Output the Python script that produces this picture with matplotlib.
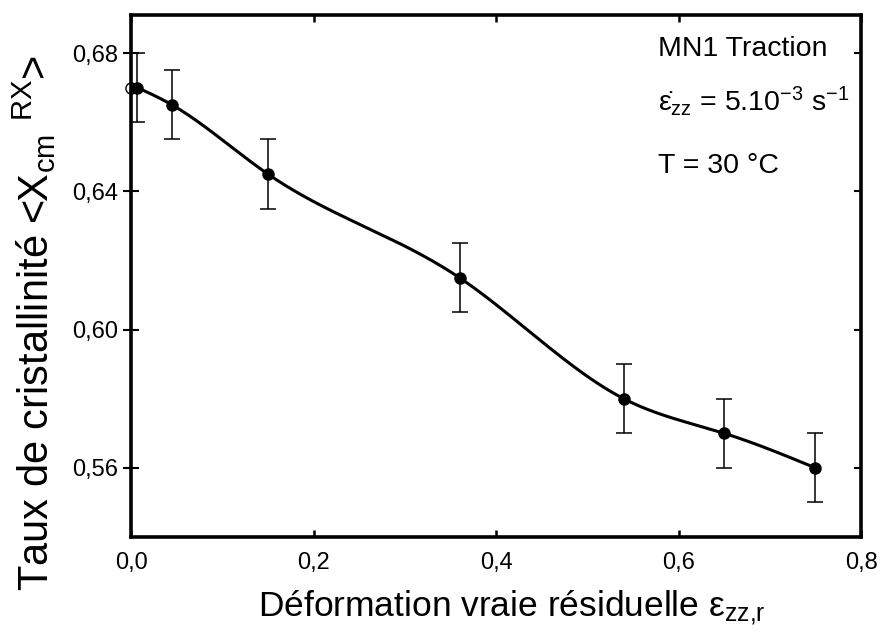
import numpy as np
import matplotlib.pyplot as plt

plt.rcParams['font.family'] = ['Liberation Sans', 'DejaVu Sans']
plt.rcParams['mathtext.fontset'] = 'custom'
plt.rcParams['mathtext.rm'] = 'Liberation Sans'
plt.rcParams['mathtext.it'] = 'Liberation Sans:italic'
plt.rcParams['mathtext.bf'] = 'Liberation Sans:bold'

# data
deformation = [0.007, 0.045, 0.15, 0.36, 0.54, 0.65, 0.75]
cristallinite = [0.670, 0.665, 0.645, 0.615, 0.580, 0.570, 0.560]
erreur = [0.010, 0.010, 0.010, 0.010, 0.010, 0.010, 0.010]
# open point at zero strain
x_ref = [0.0]
y_ref = [0.670]


def natural_spline(x, y, n=400):
    # natural cubic spline, just for drawing the smooth line through the points
    x = np.asarray(x, float)
    y = np.asarray(y, float)
    k = len(x)
    h = np.diff(x)
    A = np.zeros((k, k))
    r = np.zeros(k)
    A[0, 0] = A[-1, -1] = 1
    for i in range(1, k - 1):
        A[i, i - 1] = h[i - 1]
        A[i, i] = 2 * (h[i - 1] + h[i])
        A[i, i + 1] = h[i]
        r[i] = 3 * ((y[i + 1] - y[i]) / h[i] - (y[i] - y[i - 1]) / h[i - 1])
    c = np.linalg.solve(A, r)
    b = (y[1:] - y[:-1]) / h - h * (2 * c[:-1] + c[1:]) / 3
    d = (c[1:] - c[:-1]) / (3 * h)
    xs = np.linspace(x[0], x[-1], n)
    idx = np.clip(np.searchsorted(x, xs) - 1, 0, k - 2)
    dx = xs - x[idx]
    ys = y[idx] + b[idx] * dx + c[idx] * dx ** 2 + d[idx] * dx ** 3
    return xs, ys


fig = plt.figure(figsize=(8.8, 6.37), dpi=100)
ax = fig.add_axes([131 / 880, 1 - 537 / 637, 730 / 880, 522 / 637])

xs, ys = natural_spline(deformation, cristallinite)
ax.plot(xs, ys, color='black', lw=2.2, zorder=3)
ax.errorbar(deformation, cristallinite, yerr=erreur, fmt='o', color='black',
            ms=8, elinewidth=1.1, capsize=6, capthick=1.1, zorder=4)
ax.plot(x_ref, y_ref, 'o', mfc='white', mec='black', ms=8, mew=1, zorder=2,
        clip_on=False)

ax.set_xlim(0, 0.8)
ax.set_ylim(0.54, 0.691)
ax.set_xticks([0.0, 0.2, 0.4, 0.6, 0.8])
ax.set_xticklabels(['0,0', '0,2', '0,4', '0,6', '0,8'])
ax.set_yticks([0.56, 0.60, 0.64, 0.68])
ax.set_yticklabels(['0,56', '0,60', '0,64', '0,68'])

for s in ax.spines.values():
    s.set_linewidth(2.6)
ax.tick_params(axis='x', direction='in', top=True, length=5, width=1.8,
               labelsize=17, pad=11)
ax.tick_params(axis='y', direction='inout', length=12, width=1.5,
               labelsize=17, pad=3)
ax.tick_params(axis='y', right=True)
for t in ax.yaxis.get_major_ticks():
    t.tick2line.set_markersize(5)
    t.tick2line.set_marker(0)

ax.set_xlabel('Déformation vraie résiduelle ε$_{\\mathrm{zz{,}r}}$', fontsize=25.5)
ax.xaxis.set_label_coords(0.522, -0.10)
ax.set_ylabel('Taux de cristallinité <X$_{\\mathrm{cm}}$ $^{\\mathrm{RX}}$>', fontsize=30)
ax.yaxis.set_label_coords(-0.10, 0.41)

ax.text(0.722, 0.935, 'MN1 Traction', transform=ax.transAxes, fontsize=20.5, va='center')
ax.text(0.722, 0.835, 'ε̇$_{\\mathrm{zz}}$ = 5.10$^{\\mathrm{-3}}$ s$^{\\mathrm{-1}}$',
        transform=ax.transAxes, fontsize=20.5, va='center')
ax.text(0.722, 0.71, 'T = 30 °C', transform=ax.transAxes, fontsize=20.5, va='center')

fig.savefig('out.png', dpi=100)
